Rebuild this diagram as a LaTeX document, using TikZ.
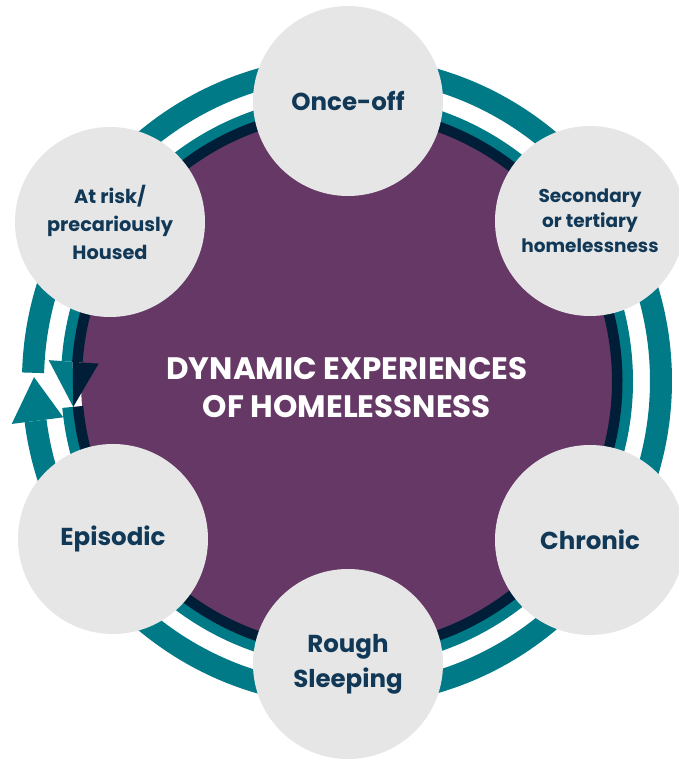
\documentclass[tikz,border=0pt]{standalone}
\usepackage{fontspec}
\setmainfont{Poppins}
\definecolor{ringteal}{RGB}{0,122,135}
\definecolor{ringnavy}{RGB}{0,30,55}
\definecolor{discpurple}{RGB}{102,56,102}
\definecolor{satgrey}{RGB}{230,230,230}
\definecolor{txtnavy}{RGB}{17,57,87}
\tikzset{
  sat/.style={circle, fill=satgrey, minimum size=190pt, inner sep=0pt, text=txtnavy, align=center},
  bigtxt/.style={font=\bfseries\fontsize{24.5}{35}\selectfont},
  midtxt/.style={font=\bfseries\fontsize{19.3}{28}\selectfont},
  smalltxt/.style={font=\bfseries\fontsize{18.5}{25}\selectfont},
  centretxt/.style={text=white, align=center, font=\bfseries\fontsize{31}{38}\selectfont}
}
\begin{document}
\begin{tikzpicture}[x=1pt,y=1pt]
\useasboundingbox (-347,-379) rectangle (331,381);
% disc
\fill[discpurple] (0,0) circle (266);
% outer ring with upward head
\draw[ringteal, line width=22pt] (178.5:314) arc[start angle=178.5, end angle=-172.7, radius=314];
\fill[ringteal] (187.3:286) -- (187.3:338) -- (179.3:313) -- cycle;
% inner ring with downward head
\draw[ringteal, line width=11pt] (-174.6:280.5) arc[start angle=-174.6, end angle=176, radius=280.5];
\draw[ringnavy, line width=10.5pt] (-174.6:270.25) arc[start angle=-174.6, end angle=176, radius=270.25];
\fill[ringteal] (176:299) -- (176:275) -- (185.4:275) -- cycle;
\fill[ringnavy] (176:275) -- (176:249) -- (185.4:275) -- cycle;
% centre text
\node[centretxt] (centre) at (0,-7) {DYNAMIC EXPERIENCES\\OF HOMELESSNESS};
% satellites
\node[sat, bigtxt] (onceoff) at (1,280) {Once-off};
\node[sat, smalltxt] (secondary) at (243,160) {Secondary\\or tertiary\\homelessness};
\node[sat, bigtxt] (chronic) at (243,-159) {Chronic};
\node[sat, bigtxt] (rough) at (1,-283) {Rough\\Sleeping};
\node[sat, bigtxt] (episodic) at (-234,-158) {Episodic};
\node[sat, midtxt] (atrisk) at (-237,159) {At risk/\\precariously\\Housed};
\end{tikzpicture}
\end{document}
